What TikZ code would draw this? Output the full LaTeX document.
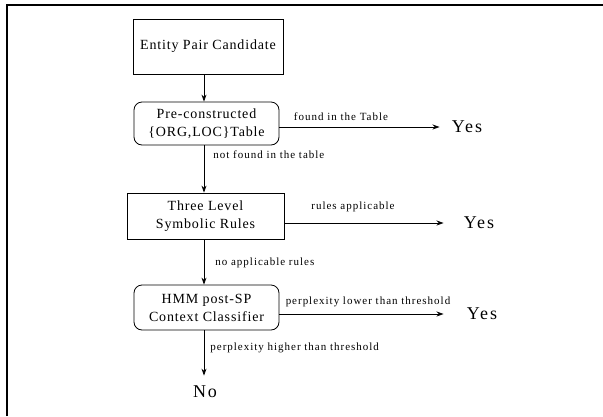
\documentclass[tikz,border=0pt]{standalone}
\usepackage{fontspec}
\setmainfont{Liberation Serif}
\usetikzlibrary{arrows.meta}
\begin{document}
\begin{tikzpicture}[x=1pt,y=-1pt,
  line width=0.8pt,
  boxa/.style={draw,minimum width=#1,inner sep=0pt,align=center,font=\fontsize{14}{18}\selectfont\addfontfeature{LetterSpace=6}},
  roundbox/.style={boxa=#1,rounded corners=8pt},
  lbl/.style={font=\fontsize{11}{12}\selectfont\addfontfeature{LetterSpace=9},inner sep=0pt},
  answer/.style={font=\fontsize{18}{20}\selectfont\addfontfeature{LetterSpace=11},inner sep=0pt},
  arr/.style={-{Stealth[length=7pt,width=5pt]}}]
\useasboundingbox (0,0) rectangle (603,416);
\draw[line width=2pt] (7,416) -- (7,5) -- (603,5);
\coordinate (ax) at (204,0);
\node[boxa=150pt,minimum height=55pt] (ent) at (208,46.5) {Entity Pair Candidate};
\node[roundbox=145pt,minimum height=43pt] (pre) at (206.5,123.5) {Pre-constructed\\\{ORG,LOC\}Table};
\node[boxa=157pt,minimum height=46pt] (three) at (205.5,216) {Three Level\\Symbolic Rules};
\node[roundbox=145pt,minimum height=45pt] (hmm) at (206.5,307.5) {HMM post-SP\\Context Classifier};
\node[answer] (yes1) at (467,127) {Yes};
\node[answer] (yes2) at (479,223) {Yes};
\node[answer] (yes3) at (482,314) {Yes};
\node[answer] (no) at (205,392) {No};
\draw[arr] (ent.south -| ax) -- (pre.north -| ax);
\draw[arr] (pre.south -| ax) -- (three.north -| ax);
\draw[arr] (three.south -| ax) -- (hmm.north -| ax);
\draw[arr,shorten >=10pt] (hmm.south -| ax) -- (no.north -| ax);
\draw[arr,shorten >=12pt] (pre.east |- yes1) -- (yes1.west);
\draw[arr,shorten >=20pt] (three.east |- yes2) -- (yes2.west);
\draw[arr,shorten >=23pt] (hmm.east |- yes3) -- (yes3.west);
\node[lbl] (l1) at (341,117) {found in the Table};
\node[lbl,anchor=west] (l2) at (213,155) {not found in the table};
\node[lbl] (l3) at (353,207) {rules applicable};
\node[lbl,anchor=west] (l4) at (215,263) {no applicable rules};
\node[lbl] (l5) at (368,302) {perplexity lower than threshold};
\node[lbl,anchor=west] (l6) at (210,348) {perplexity higher than threshold};
\end{tikzpicture}
\end{document}
